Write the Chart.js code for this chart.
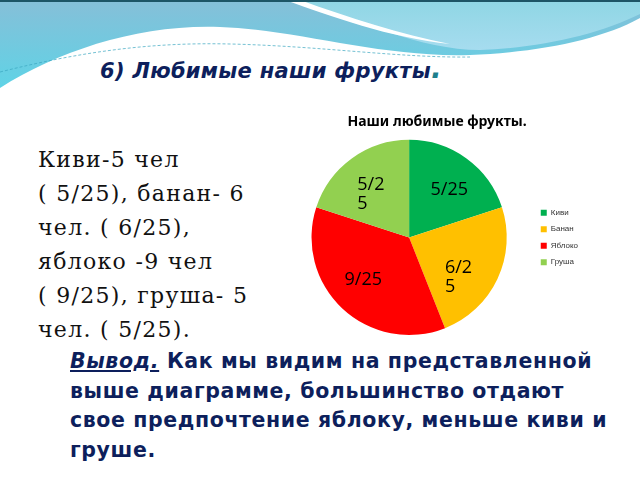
<!DOCTYPE html>
<html>
<head>
<meta charset="utf-8">
<script src="https://cdn.jsdelivr.net/npm/chart.js@4.4.0/dist/chart.umd.min.js"></script>
<style>
  html, body { margin: 0; padding: 0; background: #fff; }
  body { width: 640px; height: 480px; position: relative; overflow: hidden; }
  #wave { position: absolute; left: 0; top: 0; }
  .title {
    position: absolute; left: 0; width: 640px; top: 52px; text-align: center;
    font: italic bold 21px "DejaVu Sans", sans-serif; color: #0d1f5c; letter-spacing: 0.3px;
    padding-right: 98px; box-sizing: border-box;
  }
  .title span { color: #1e7f8c; font-size: 28px; }
  .facts {
    position: absolute; left: 38px; top: 143px;
    font: 22px "DejaVu Serif", serif; line-height: 34px; color: #111; letter-spacing: 1.3px;
  }
  .result {
    position: absolute; left: 70px; top: 347px; width: 570px;
    font: bold 20.5px "DejaVu Sans", sans-serif; line-height: 29.5px; color: #0d1f5c; letter-spacing: 0.6px;
  }
  .result em { text-decoration: underline; }
  #chartBox { position: absolute; left: 286px; top: 100px; width: 302px; height: 240px; }
</style>
</head>
<body>
<svg id="wave" width="640" height="100" viewBox="0 0 640 100">
  <defs>
    <linearGradient id="gLeft" x1="0" y1="0" x2="0" y2="1">
      <stop offset="0" stop-color="#86bfd8"/>
      <stop offset="1" stop-color="#5fd3e6"/>
    </linearGradient>
    <linearGradient id="gRight" x1="0" y1="0" x2="0" y2="1">
      <stop offset="0" stop-color="#8fd6e4"/>
      <stop offset="1" stop-color="#a6dcef"/>
    </linearGradient>
  </defs>
  <path d="M0 0 H640 V18 C600 40 540 52 470 55 C380 58 300 30 220 27 C140 24 60 50 0 88 Z" fill="url(#gLeft)"/>
  <path d="M290 0 H640 V14 C600 34 540 48 480 50 C420 50 360 20 290 0 Z" fill="url(#gRight)"/>
  <path d="M285 0 C330 16 390 38 450 44 C400 34 350 18 300 0 Z" fill="#ffffff"/>
  <path d="M0 72 C80 52 150 42 230 44 C320 46 400 58 470 57" stroke="#3aa6c0" stroke-width="1" stroke-dasharray="3 2" fill="none" opacity="0.7"/>
  <rect x="0" y="0" width="640" height="2" fill="#1d5566"/>
</svg>

<div class="title">6) Любимые наши фрукты<span>.</span></div>

<div class="facts">
  Киви-5 чел<br>( 5/25), банан- 6<br>чел. ( 6/25),<br>яблоко -9 чел<br>( 9/25), груша- 5<br>чел. ( 5/25).
</div>

<div class="result">
  <em>Вывод.</em> Как мы видим на представленной<br>выше диаграмме, большинство отдают<br>свое предпочтение яблоку, меньше киви и<br>груше.
</div>

<div id="chartBox"><canvas id="fruitChart"></canvas></div>

<script>
const fruits = ['Киви', 'Банан', 'Яблоко', 'Груша'];
const people = [5, 6, 9, 5];
const sliceLabels = [['5/25'], ['6/2', '5'], ['9/25'], ['5/2', '5']];
const sliceColors = ['#00b050', '#ffc000', '#ff0000', '#92d050'];

// подписи внутри секторов (первая строка в точке, перенос вниз, как в Excel)
const sliceText = {
  id: 'sliceText',
  afterDatasetsDraw(chart) {
    const ctx = chart.ctx;
    const meta = chart.getDatasetMeta(0);
    ctx.save();
    ctx.font = '18px "Open Sans", sans-serif';
    ctx.fillStyle = '#000';
    ctx.textBaseline = 'middle';
    ctx.textAlign = 'left';
    meta.data.forEach((arc, i) => {
      const mid = (arc.startAngle + arc.endAngle) / 2 + 4 * Math.PI / 180;
      const r = arc.outerRadius * 0.64;
      const cx = arc.x + Math.cos(mid) * r;
      const cy = arc.y + Math.sin(mid) * r;
      const lines = sliceLabels[i];
      const full = ctx.measureText(lines.join('')).width;
      const lh = 19;
      lines.forEach((l, k) => {
        ctx.fillText(l, cx - full / 2, cy + k * lh);
      });
    });
    ctx.restore();
  }
};

new Chart(document.getElementById('fruitChart'), {
  type: 'pie',
  data: {
    labels: fruits,
    datasets: [{
      data: people,
      backgroundColor: sliceColors,
      borderWidth: 0
    }]
  },
  options: {
    responsive: true,
    maintainAspectRatio: false,
    animation: false,
    layout: { padding: { bottom: 5 } },
    plugins: {
      title: {
        display: true,
        text: 'Наши любимые фрукты.',
        color: '#000',
        font: { family: "'Noto Sans', sans-serif", size: 14, weight: 'bold' },
        padding: { top: 14, bottom: 9 }
      },
      legend: {
        position: 'right',
        fullSize: false,
        labels: {
          boxWidth: 6,
          boxHeight: 6,
          padding: 8.5,
          color: '#333',
          font: { family: "'Liberation Sans', sans-serif", size: 8 }
        }
      },
      tooltip: { enabled: false }
    }
  },
  plugins: [sliceText]
});
</script>
</body>
</html>
